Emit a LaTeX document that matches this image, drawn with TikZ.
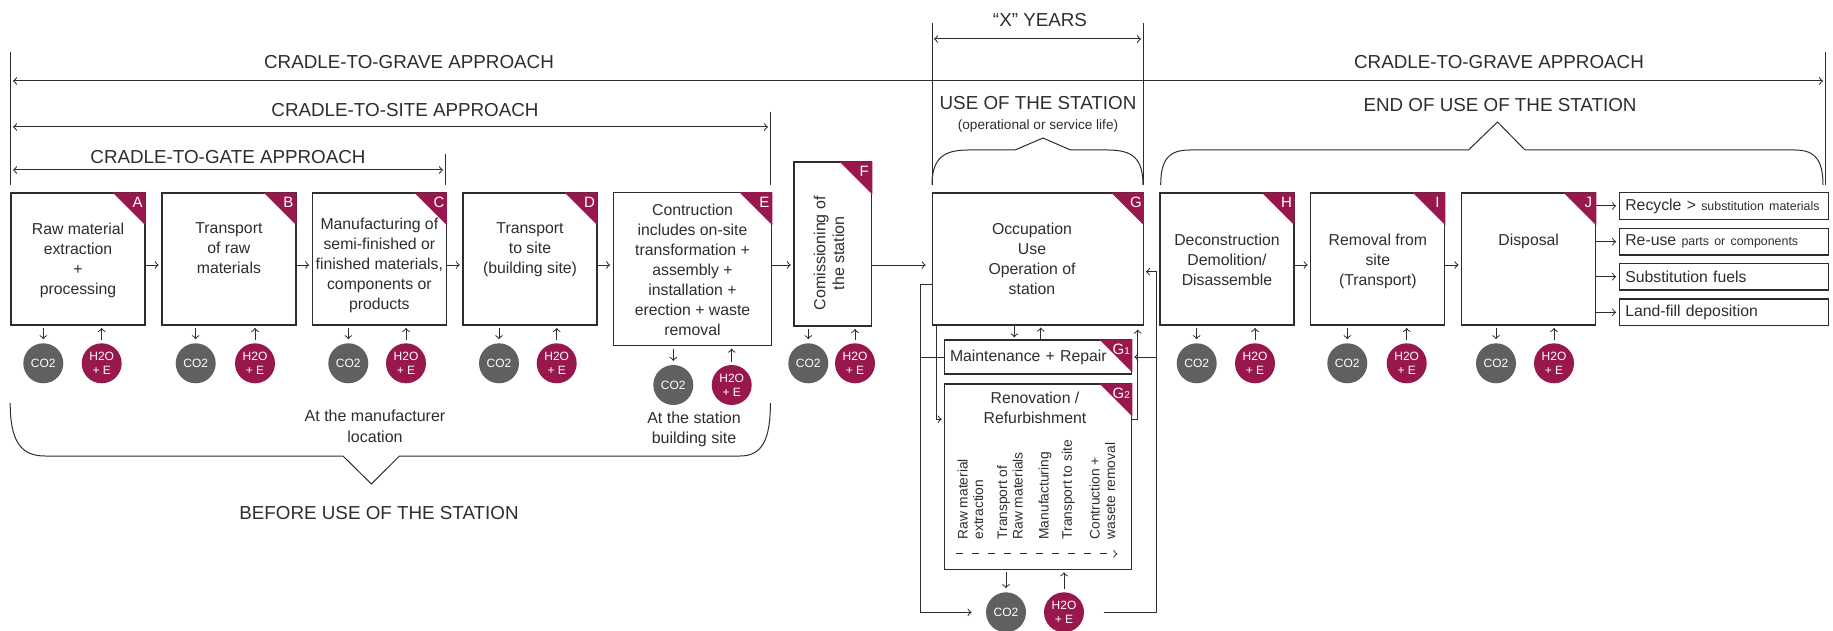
\documentclass[tikz,border=0pt]{standalone}
\usepackage{fontspec}
\setmainfont{Liberation Sans}
\definecolor{wine}{RGB}{152,24,78}
\definecolor{smoke}{RGB}{96,96,96}
\definecolor{ink}{RGB}{45,45,45}
\newcommand{\smalltxt}{\fontsize{6.2}{7}\selectfont}
\begin{document}
\begin{tikzpicture}[x=0.5pt,y=-0.5pt,color=ink,line width=0.5pt,
    stage/.style={draw=ink,line width=0.6pt,minimum width=67pt,minimum height=66pt,inner sep=0pt},
    txt/.style={font=\fontsize{7.9}{10}\selectfont,align=center,inner sep=0pt},
    rot/.style={font=\fontsize{6.9}{7.8}\selectfont,align=left,inner sep=0pt,rotate=90},
    big/.style={font=\fontsize{9.4}{11}\selectfont,inner sep=0pt},
    note/.style={font=\fontsize{8}{10.3}\selectfont,align=center,inner sep=0pt},
    co/.style={circle,fill=smoke,minimum size=20pt,inner sep=0pt,text=white,font=\fontsize{6}{7}\selectfont,align=center},
    he/.style={co,fill=wine},
    tag/.style={text=white,font=\fontsize{7.5}{7.5}\selectfont,inner sep=0pt},
    outbox/.style={draw=ink,line width=0.6pt,minimum height=13.35pt,text width=98.5pt,inner xsep=3pt,inner ysep=0pt,align=left,font=\fontsize{7.9}{9}\selectfont}]
  \useasboundingbox (0,0) rectangle (1833,631);

  \draw (10.7,52) -- (10.7,185);
  \draw (1825.8,52) -- (1825.8,185);
  \draw (445.6,154) -- (445.6,185);
  \draw (770.8,112) -- (770.8,185);
  \draw (932,23) -- (932,185);
  \draw (1143,23) -- (1143,185);
  \draw[<->] (13,81) -- (1823,81);
  \draw[<->] (13,127) -- (768,127);
  \draw[<->] (13,170) -- (443,170);
  \draw[<->] (934,39) -- (1141,39);
  \node[big] (grave-l) at (409,62) {CRADLE-TO-GRAVE APPROACH};
  \node[big] (grave-r) at (1499,62) {CRADLE-TO-GRAVE APPROACH};
  \node[big] (site) at (405,110) {CRADLE-TO-SITE APPROACH};
  \node[big] (gate) at (228,157) {CRADLE-TO-GATE APPROACH};
  \node[big] (years) at (1040,20) {“X” YEARS};
  \node[big] (use) at (1038,103) {USE OF THE STATION};
  \node[inner sep=0pt,font=\fontsize{6.8}{8}\selectfont] (use-sub) at (1038,126) {(operational or service life)};
  \node[big] (eou) at (1500,105) {END OF USE OF THE STATION};
  \node[big] (before) at (379,512.7) {BEFORE USE OF THE STATION};
  \node[note] (maker) at (375,426.3) {At the manufacturer\\location};
  \node[note] (siteloc) at (694,429.3) {At the station\\building site};

  \draw (932,185) .. controls (932,158) and (944,150) .. (968,150) -- (1015,150) -- (1043,138) -- (1070.5,150) -- (1108,150) .. controls (1132,150) and (1143,158) .. (1143,185);
  \draw (1160.7,185) .. controls (1160.7,158) and (1170,150) .. (1190,150) -- (1468.5,150) -- (1497.5,122) -- (1525,150) -- (1795,150) .. controls (1815,150) and (1823,160) .. (1823,185);
  \draw (10.2,403) .. controls (10.2,440) and (20,456) .. (45,456) -- (343,456) -- (371.4,484) -- (399.5,456) -- (740,456) .. controls (762,456) and (770.4,440) .. (770.4,403);

  \foreach \n/\x in {a/78,b/228.9,c/379.35,d/530,h/1227,i/1377.85,j/1528.7}
    \node[stage] (\n) at (\x,259) {};
  \node[stage,minimum width=79.2pt,minimum height=76.5pt] (e) at (692.5,269.2) {};
  \node[stage,minimum width=38.85pt,minimum height=82pt] (f) at (832.85,244) {};
  \node[stage,minimum width=105.5pt] (g) at (1037.8,259) {};
  \node[stage,minimum width=93.7pt,minimum height=17pt,text width=88pt,inner xsep=2.85pt,align=left,font=\fontsize{7.9}{9}\selectfont] (g1) at (1038,357) {Maintenance + Repair};
  \node[stage,minimum width=93.7pt,minimum height=92.65pt] (g2) at (1038,476.65) {};

  \node[txt,anchor=north] (a-txt) at (78,222.6) {Raw material\\extraction\\+\\processing};
  \node[txt,anchor=north] (b-txt) at (228.9,222.6) {Transport\\of raw\\materials};
  \node[txt,anchor=north] (c-txt) at (379.35,217.6) {Manufacturing of\\semi-finished or\\finished materials,\\components or\\products};
  \node[txt,anchor=north] (d-txt) at (530,222.6) {Transport\\to site\\(building site)};
  \node[txt,anchor=north] (e-txt) at (692.5,203.6) {Contruction\\includes on-site\\transformation +\\assembly +\\installation +\\erection + waste\\removal};
  \node[txt,rotate=90,font=\fontsize{8}{9.3}\selectfont] (f-txt) at (829,253.3) {Comissioning of\\the station};
  \node[txt,anchor=north] (g-txt) at (1032,222.6) {Occupation\\Use\\Operation of\\station};
  \node[txt,anchor=north] (h-txt) at (1227,233.6) {Deconstruction\\Demolition/\\Disassemble};
  \node[txt,anchor=north] (i-txt) at (1377.85,233.6) {Removal from\\site\\(Transport)};
  \node[txt,anchor=north] (j-txt) at (1528.7,233.6) {Disposal};
  \node[txt,anchor=north] (g2-txt) at (1035,391.6) {Renovation /\\Refurbishment};
  \foreach \n/\x/\t in {p1/970.5/{Raw material\\extraction},p2/1010/{Transport of\\Raw materials},p3/1045/{Manufacturing},p4/1068.3/{Transport to site},p5/1102.5/{Contruction +\\wasete removal}}
    \node[rot,anchor=west] (\n) at (\x,540) {\t};
  \draw[->,dash pattern=on 3.5pt off 4.5pt] ([shift={(12.7,-16)}]g2.south west) -- ([shift={(-15,-16)}]g2.south east);

  \foreach \n/\l in {a/A,b/B,c/C,d/D,e/E,f/F,g/G,h/H,i/I,j/J}{
    \fill[wine] (\n.north east) -- ++(-33,0) -- ++(33,33) -- cycle;
    \node[tag] (\n-tag) at ([shift={(-8,10.3)}]\n.north east) {\l};
  }
  \foreach \n/\l in {g1/1,g2/2}{
    \fill[wine] (\n.north east) -- ++(-33,0) -- ++(33,33) -- cycle;
    \node[tag] (\n-tag) at ([shift={(-11,10)}]\n.north east) {G{\fontsize{5}{5}\selectfont\l}};
  }

  \node[outbox] (r1) at (1723.8,206) {Recycle > {\smalltxt substitution materials}};
  \node[outbox] (r2) at (1723.8,241.7) {Re-use {\smalltxt parts or components}};
  \node[outbox] (r3) at (1723.8,276.7) {Substitution fuels};
  \node[outbox] (r4) at (1723.8,312.3) {Land-fill deposition};
  \foreach \r in {r1,r2,r3,r4}
    \draw[->,shorten >=1.3pt] (j.east |- \r) -- (\r);

  \coordinate (flow) at (0,265);
  \foreach \s/\t in {a/b,b/c,c/d,d/e,e/f,h/i,i/j}
    \draw[->,shorten >=1.3pt] (\s.east |- flow) -- (\t.west |- flow);
  \draw[->,shorten >=3pt] (f.east |- flow) -- (g.west |- flow);

  \foreach \n/\s/\cx/\hx/\cy in {a/a/43.3/101.7/363.3,b/b/195.7/255/363.3,c/c/348.3/406/363.3,d/d/499/556.7/363.3,e/e/673.3/731.7/385,f/f/808.3/855/363.3,g/g2/1006/1064/612.3,h/h/1196.7/1255/363.3,i/i/1347.3/1406.7/363.3,j/j/1496/1554/363.3}{
    \node[co] (\n-co) at (\cx,\cy) {CO2};
    \node[he] (\n-he) at (\hx,\cy) {H2O\\+ E};
    \draw[->,shorten <=1.2pt,shorten >=1.8pt] (\s.south -| \n-co) -- (\n-co);
    \draw[->,shorten <=1.2pt,shorten >=1.2pt] (\n-he) -- (\n-he |- \s.south);
  }

  \coordinate (lpL) at (920,0);
  \coordinate (lpR) at (1156,0);
  \coordinate (inL) at (936.7,0);
  \coordinate (inR) at (1137.7,0);
  \coordinate (g-dn) at (1014.3,0);
  \coordinate (g-up) at (1040.7,0);
  \coordinate (g-in) at ([yshift=-6.35pt]g.east);
  \coordinate (g2-in) at ([yshift=28.7pt]g2.west);
  \draw[->,shorten >=1pt] (g.south -| g-dn) -- (g1.north -| g-dn);
  \draw[->,shorten >=1pt] (g1.north -| g-up) -- (g.south -| g-up);
  \draw[->,shorten >=7pt] ([yshift=-12.5pt]g.west) -| (lpL |- g-co) -- (g-co);
  \draw (g1.west) -- (g1.west -| lpL);
  \draw[->,shorten <=9.5pt,shorten >=1pt] (g-he) -| (lpR |- g-in) -- (g-in);
  \draw[->,shorten >=1pt] (g1.east -| lpR) -- (g1.east);
  \draw[->,shorten >=1pt] (g.south -| inL) |- (g2-in);
  \draw[->,shorten >=2pt] (g2-in -| g2.east) -| (g.south -| inR);
\end{tikzpicture}
\end{document}
